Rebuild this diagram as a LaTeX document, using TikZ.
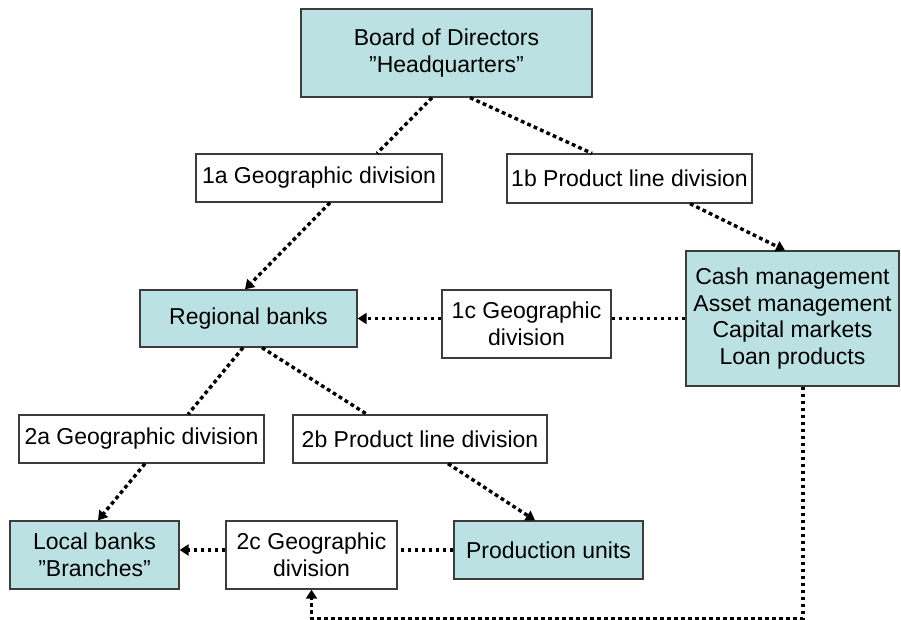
\documentclass[tikz,border=0pt]{standalone}
\usepackage{fontspec}
\setmainfont{Liberation Sans}
\usetikzlibrary{arrows.meta,calc}
\definecolor{boxfill}{RGB}{188,225,227}
\definecolor{boxline}{RGB}{60,60,60}
\begin{document}
\begin{tikzpicture}[x=1pt,y=-1pt,
  base/.style={draw=boxline,line width=1.3pt,align=center,inner sep=1pt,font=\fontsize{23}{26.5}\selectfont},
  unit/.style={base,fill=boxfill},
  div/.style={base,fill=white},
  link/.style={line width=3.4pt,dash pattern=on 3.8pt off 3.2pt},
  arr/.style={link,-{Triangle[width=11pt,length=9pt]}}]
\useasboundingbox (0,0) rectangle (901,620);
\node[unit,minimum width=291pt,minimum height=88pt] (board) at (446.5,53) {Board of Directors\\”Headquarters”};
\node[div,minimum width=246pt,minimum height=48pt] (g1a) at (319,178) {1a Geographic division};
\node[div,minimum width=245pt,minimum height=49pt] (p1b) at (629.5,178.5) {1b Product line division};
\node[unit,minimum width=213pt,minimum height=135pt] (cash) at (792.5,318.5) {Cash management\\Asset management\\Capital markets\\Loan products};
\node[div,minimum width=169pt,minimum height=68pt] (g1c) at (526.5,324) {1c Geographic\\division};
\node[unit,minimum width=217pt,minimum height=57pt] (reg) at (248.5,318.5) {Regional banks};
\node[div,minimum width=245pt,minimum height=48pt] (g2a) at (141.5,439) {2a Geographic division};
\node[div,minimum width=254pt,minimum height=48pt] (g2b) at (420,439) {2b Product line division};
\node[unit,minimum width=169pt,minimum height=68pt] (local) at (94.5,555) {Local banks\\”Branches”};
\node[div,minimum width=171pt,minimum height=68pt] (g2c) at (311.5,555) {2c Geographic\\division};
\node[unit,minimum width=189pt,minimum height=58pt] (prod) at (548.5,550) {Production units};

\draw[link] ([xshift=-14.5pt]board.south) -- ([xshift=58pt]g1a.north);
\draw[link] ([xshift=23.5pt]board.south) -- ([xshift=-37.5pt]p1b.north);
\draw[arr] ([xshift=11pt]g1a.south) -- ([xshift=-3.5pt]reg.north);
\draw[arr] ([xshift=60.5pt]p1b.south) -- ([xshift=-7.5pt]cash.north);
\draw[link] (cash.west) -- (cash.west -| g1c.east);
\draw[arr] (g1c.west |- reg.east) -- (reg.east);
\draw[link] ([xshift=-5.5pt]reg.south) -- ([xshift=46.5pt]g2a.north);
\draw[link] ([xshift=13.5pt]reg.south) -- ([xshift=-53pt]g2b.north);
\draw[arr] ([xshift=3.5pt]g2a.south) -- ([xshift=3.5pt]local.north);
\draw[arr] ([xshift=28pt]g2b.south) -- ([xshift=-13.5pt]prod.north);
\draw[link] (prod.west) -- (prod.west -| g2c.east);
\draw[arr] (g2c.west |- prod.west) -- (local.east |- prod.west);
\coordinate (loop) at ([yshift=-29pt]g2c.south);
\draw[arr] ([xshift=10.5pt]cash.south) |- (loop) -- (g2c.south);
\end{tikzpicture}
\end{document}
